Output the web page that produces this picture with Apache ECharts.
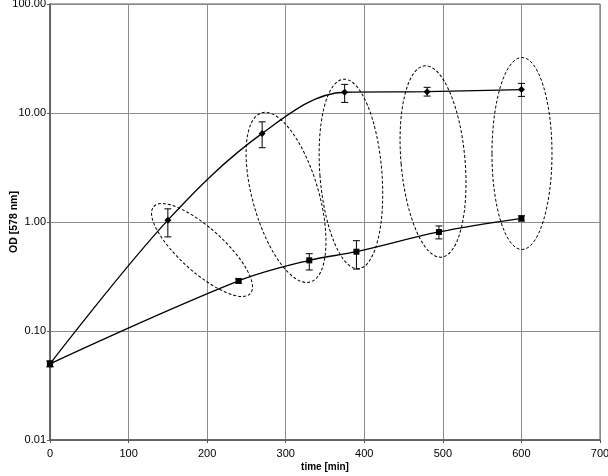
<!DOCTYPE html>
<html>
<head>
<meta charset="utf-8">
<script src="https://cdn.jsdelivr.net/npm/echarts@6/dist/echarts.min.js"></script>
<style>html,body{margin:0;padding:0;background:#fff}#c{width:608px;height:476px}</style>
</head>
<body>
<div id="c"></div>
<script>
// ---- data ----
const timeA = [0, 150, 270, 375, 480, 600];
const odA = [0.05, 1.04, 6.5, 15.5, 15.7, 16.4];
const odA_low = [0.047, 0.73, 4.8, 12.5, 14.3, 14.2];
const odA_high = [0.053, 1.32, 8.3, 18.3, 17.2, 18.7];

const timeB = [0, 240, 330, 390, 495, 600];
const odB = [0.05, 0.288, 0.445, 0.534, 0.81, 1.08];
const odB_low = [0.047, 0.276, 0.363, 0.37, 0.70, 1.02];
const odB_high = [0.053, 0.30, 0.512, 0.674, 0.92, 1.14];

const xTicks = [0, 100, 200, 300, 400, 500, 600, 700];
const yTicks = [0.01, 0.1, 1, 10, 100];

// annotation ellipses: centre in data coords
const ellipseCentres = [[193.5, 0.553], [300.4, 1.68], [383, 2.76], [487.5, 3.59], [600.7, 4.25]];

const FONT = 'Liberation Sans, Arial, sans-serif';
const chart = echarts.init(document.getElementById('c'));

function errSeries(times, lo, hi) {
  return {
    type: 'custom',
    data: times.map((t, i) => [t, lo[i], hi[i]]),
    encode: { x: 0, y: [1, 2] },
    z: 3,
    renderItem: function (params, api) {
      const t = api.value(0);
      const p1 = api.coord([t, api.value(1)]);
      const p2 = api.coord([t, api.value(2)]);
      const w = 3.5;
      const st = { stroke: '#000', lineWidth: 1 };
      return {
        type: 'group',
        children: [
          { type: 'line', shape: { x1: p1[0], y1: p1[1], x2: p2[0], y2: p2[1] }, style: st },
          { type: 'line', shape: { x1: p1[0] - w, y1: p1[1], x2: p1[0] + w, y2: p1[1] }, style: st },
          { type: 'line', shape: { x1: p2[0] - w, y1: p2[1], x2: p2[0] + w, y2: p2[1] }, style: st }
        ]
      };
    }
  };
}

const option = {
  animation: false,
  backgroundColor: '#fff',
  grid: { left: 50, right: 8, top: 4, bottom: 36, containLabel: false, outerBoundsMode: 'none',
    show: true, borderColor: '#555', borderWidth: 1 },
  xAxis: {
    type: 'value', min: 0, max: 700, interval: 100,
    name: 'time [min]', nameLocation: 'middle', nameGap: 22, nameMoveOverlap: false,
    nameTextStyle: { fontFamily: FONT, fontSize: 10, fontWeight: 'bold', color: '#000' },
    axisLine: { show: true, lineStyle: { color: '#555', width: 1.5 } },
    axisTick: { show: true, length: 3, lineStyle: { color: '#555' } },
    axisLabel: { fontFamily: FONT, fontSize: 11, color: '#000', margin: 8,
      formatter: v => xTicks.includes(v) ? String(v) : '' },
    splitLine: { show: true, lineStyle: { color: '#8c8c8c', width: 1 } }
  },
  yAxis: {
    type: 'log', logBase: 10, min: 0.01, max: 100,
    name: 'OD [578 nm]', nameLocation: 'middle', nameGap: 30, nameMoveOverlap: false,
    nameTextStyle: { fontFamily: FONT, fontSize: 10.5, fontWeight: 'bold', color: '#000' },
    axisLine: { show: true, lineStyle: { color: '#555', width: 1.5 } },
    axisTick: { show: true, length: 3, lineStyle: { color: '#555' } },
    axisLabel: { fontFamily: FONT, fontSize: 11, color: '#000', margin: 4,
      formatter: v => {
        const m = yTicks.find(t => Math.abs(Math.log10(t) - Math.log10(v)) < 1e-6);
        return m !== undefined ? m.toFixed(2) : '';
      } },
    splitLine: { show: true, lineStyle: { color: '#8c8c8c', width: 1 } },
    minorTick: { show: false }
  },
  series: [
    {
      type: 'line', data: timeA.map((t, i) => [t, odA[i]]), smooth: 0.35,
      symbol: 'diamond', symbolSize: 7, z: 4,
      lineStyle: { color: '#000', width: 1.3 }, itemStyle: { color: '#000' }
    },
    {
      type: 'line', data: timeB.map((t, i) => [t, odB[i]]), smooth: 0.35,
      symbol: 'rect', symbolSize: 6, z: 4,
      lineStyle: { color: '#000', width: 1.3 }, itemStyle: { color: '#000' }
    },
    errSeries(timeA, odA_low, odA_high),
    errSeries(timeB, odB_low, odB_high)
  ]
};
chart.setOption(option);

// ellipse sizes (px) and rotation (deg)
const ellipseShapes = [
  { rx: 65, ry: 22, rot: -42 },
  { rx: 33, ry: 88, rot: 16 },
  { rx: 31, ry: 95, rot: 4.5 },
  { rx: 32, ry: 96, rot: 5 },
  { rx: 30, ry: 96, rot: 0 }
];
const graphics = ellipseCentres.map((c, i) => {
  const p = chart.convertToPixel({ gridIndex: 0 }, c);
  const s = ellipseShapes[i];
  return {
    type: 'ellipse', x: p[0], y: p[1], rotation: s.rot * Math.PI / 180, z: 10,
    shape: { cx: 0, cy: 0, rx: s.rx, ry: s.ry },
    style: { fill: null, stroke: '#000', lineWidth: 1, lineDash: [3, 2] },
    silent: true
  };
});
chart.setOption({ graphic: graphics });
</script>
</body>
</html>
